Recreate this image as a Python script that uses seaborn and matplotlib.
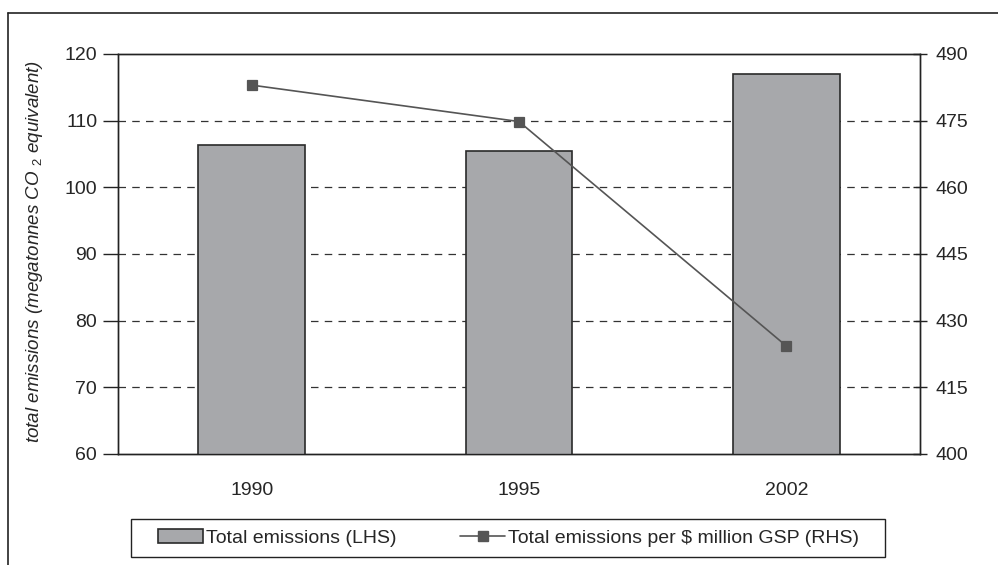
import matplotlib
matplotlib.use("Agg")
import matplotlib.pyplot as plt
import seaborn as sns
import pandas as pd
from matplotlib.patches import Patch, Rectangle
from matplotlib.lines import Line2D

years = ["1990", "1995", "2002"]
total_emissions = [106.4, 105.5, 117.0]
emissions_per_gsp = [483.0, 474.8, 424.3]
left_ticks = [60, 70, 80, 90, 100, 110, 120]
right_ticks = [400, 415, 430, 445, 460, 475, 490]

sns.set_style("white")
plt.rcParams["font.family"] = ["Liberation Sans", "DejaVu Sans"]
plt.rcParams["mathtext.fontset"] = "custom"
plt.rcParams["mathtext.rm"] = "Liberation Sans"
plt.rcParams["mathtext.it"] = "Liberation Sans:italic"

df = pd.DataFrame({"year": years, "total": total_emissions, "rate": emissions_per_gsp})

fig = plt.figure(figsize=(9.98, 5.65), dpi=100)
ax = fig.add_axes([118/998, 1-454/565, (920-118)/998, (454-54)/565])

sns.barplot(data=df, x="year", y="total", ax=ax, color="#A7A8AB",
            edgecolor="#2a2a2a", linewidth=1.2, width=0.4, saturation=1, zorder=3)
ax.set_ylim(60, 120)
ax.set_yticks(left_ticks)
ax.set_xlim(-0.5, 2.5)
ax.set_xlabel("")
ax.set_ylabel("total emissions (megatonnes CO $_{2}$ equivalent)", fontsize=13.5,
              style="italic")
ax.yaxis.set_label_coords(-0.091, 0.505)
for y in left_ticks[1:-1]:
    ax.axhline(y, color="#333333", lw=0.9, ls=(0, (6, 5)), zorder=1)

ax2 = ax.twinx()
sns.pointplot(data=df, x="year", y="rate", ax=ax2, color="#555555", marker="s",
              markersize=6.5, linewidth=1.2, zorder=4)
ax2.set_ylim(400, 490)
ax2.set_yticks(right_ticks)
ax2.set_xlim(-0.5, 2.5)
ax2.set_ylabel("")
ax2.set_xlabel("")

for a in (ax, ax2):
    for s in a.spines.values():
        s.set_color("#222222")
        s.set_linewidth(1.0)
    a.spines["top"].set_visible(True)
ax.tick_params(axis="y", direction="out", length=11, width=1, color="#222222",
               labelsize=14, pad=4, left=True)
ax.tick_params(axis="x", length=0, labelsize=14, pad=20)
ax2.tick_params(axis="y", direction="inout", length=10, width=1, color="#222222",
                labelsize=14, pad=6, right=True)
ax.set_xticks([0.5, 1.5], minor=True)
ax.tick_params(axis="x", which="minor", direction="out", length=6, width=1, color="#222222")

handles = [Patch(facecolor="#A7A8AB", edgecolor="#2a2a2a", linewidth=1.2),
           Line2D([0], [0], color="#555555", lw=1.2, marker="s", markersize=6.5)]
labels = ["Total emissions (LHS)", "Total emissions per $ million GSP (RHS)"]
leg = fig.legend(handles, labels, loc="center",
                 bbox_to_anchor=(158/998, 1-548/565, (859-158)/998, 20/565),
                 mode="expand", ncol=2, fontsize=14, frameon=False,
                 handlelength=2.3, handleheight=0.7, handletextpad=0.15, columnspacing=3.0,
                 borderpad=0, borderaxespad=0)

fig.add_artist(Rectangle((131/998, 1-557/565), (885-131)/998, 38/565,
                         transform=fig.transFigure, fill=False, edgecolor="#222222", lw=1.0))
fig.add_artist(Line2D([8/998, 8/998], [0, 1-13/565], transform=fig.transFigure,
                      color="#222222", lw=1.2))
fig.add_artist(Line2D([8/998, 1], [1-13/565, 1-13/565], transform=fig.transFigure,
                      color="#222222", lw=1.2))

fig.savefig("out.png", dpi=100)
